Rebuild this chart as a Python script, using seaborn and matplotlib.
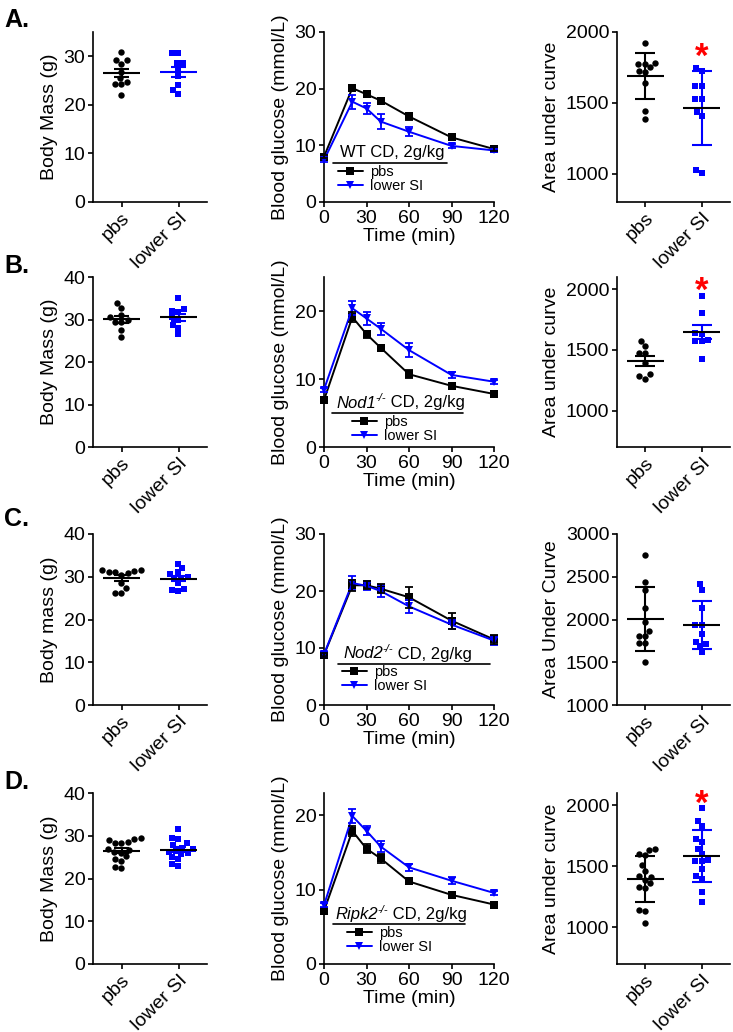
import numpy as np
import pandas as pd
import seaborn as sns
import matplotlib
matplotlib.use("Agg")
import matplotlib.pyplot as plt
from matplotlib.lines import Line2D
from matplotlib.transforms import ScaledTranslation

# ---------------- data ----------------
groups = ["pbs", "lower SI"]
time_min = [0, 20, 30, 40, 60, 90, 120]

# Row A (WT)
mass_A_pbs = [30.8, 29.3, 29.2, 28.5, 26.8, 25.5, 24.8, 24.2, 24.2, 22.0]
mass_A_lsi = [30.6, 30.6, 28.7, 28.7, 27.5, 25.9, 24.0, 23.0, 22.3]
gluc_A_pbs = [8.0, 20.1, 19.0, 17.9, 15.1, 11.4, 9.35]
gluc_A_pbs_sem = [0.3, 0.4, 0.35, 0.35, 0.6, 0.35, 0.3]
gluc_A_lsi = [7.4, 17.7, 16.5, 14.2, 12.4, 9.9, 9.1]
gluc_A_lsi_sem = [0.3, 1.2, 1.0, 1.3, 0.8, 0.3, 0.3]
auc_A_pbs = [1922, 1775, 1780, 1750, 1775, 1725, 1720, 1640, 1440, 1385]
auc_A_lsi = [1725, 1745, 1618, 1622, 1530, 1528, 1410, 1435, 1002, 1026]

# Row B (Nod1-/-)
mass_B_pbs = [33.9, 32.8, 31.0, 30.6, 30.0, 29.5, 29.4, 27.5, 26.0]
mass_B_lsi = [35.1, 32.4, 32.0, 31.7, 30.5, 30.0, 28.6, 28.0, 26.5]
gluc_B_pbs = [6.9, 19.1, 16.6, 14.6, 10.7, 9.0, 7.8]
gluc_B_pbs_sem = [0.3, 0.7, 0.5, 0.3, 0.6, 0.3, 0.3]
gluc_B_lsi = [8.45, 20.4, 18.9, 17.4, 14.25, 10.6, 9.6]
gluc_B_lsi_sem = [0.3, 1.0, 1.0, 0.9, 1.0, 0.5, 0.3]
auc_B_pbs = [1570, 1530, 1478, 1472, 1392, 1300, 1283, 1260]
auc_B_lsi = [1940, 1805, 1640, 1630, 1580, 1575, 1570, 1425]

# Row C (Nod2-/-)
mass_C_pbs = [31.6, 31.5, 31.4, 31.2, 31.0, 30.8, 30.5, 28.5, 27.3, 26.3, 26.2]
mass_C_lsi = [33.0, 32.0, 31.0, 30.6, 30.0, 29.8, 29.5, 28.5, 27.2, 26.9, 26.6]
gluc_C_pbs = [8.8, 21.0, 21.0, 20.4, 18.9, 14.8, 11.5]
gluc_C_pbs_sem = [0.4, 1.0, 0.7, 0.8, 1.8, 1.4, 0.8]
gluc_C_lsi = [8.9, 21.4, 20.9, 20.0, 17.3, 14.1, 11.3]
gluc_C_lsi_sem = [0.4, 1.2, 0.8, 1.0, 1.2, 0.8, 0.7]
auc_C_pbs = [2750, 2440, 2345, 2140, 1970, 1865, 1810, 1805, 1725, 1720, 1500]
auc_C_lsi = [2420, 2350, 2140, 1935, 1930, 1830, 1740, 1715, 1690, 1620]

# Row D (Ripk2-/-)
mass_D_pbs = [29.5, 29.3, 29.0, 28.6, 28.4, 28.2, 27.0, 26.6, 26.3, 25.9, 25.2, 24.5, 24.2, 22.6, 22.5]
mass_D_lsi = [31.5, 29.5, 29.3, 28.3, 27.8, 27.2, 26.8, 26.5, 26.2, 26.0, 25.8, 25.0, 24.5, 23.3, 23.0]
gluc_D_pbs = [7.15, 17.9, 15.5, 14.2, 11.1, 9.3, 8.0]
gluc_D_pbs_sem = [0.3, 0.7, 0.6, 0.6, 0.4, 0.3, 0.3]
gluc_D_lsi = [7.9, 19.9, 17.9, 15.8, 13.0, 11.2, 9.56]
gluc_D_lsi_sem = [0.3, 1.0, 0.6, 0.7, 0.5, 0.5, 0.3]
auc_D_pbs = [1640, 1635, 1600, 1590, 1510, 1465, 1420, 1415, 1390, 1360, 1330, 1325, 1140, 1130, 1035]
auc_D_lsi = [1980, 1870, 1830, 1720, 1700, 1640, 1600, 1550, 1545, 1540, 1480, 1420, 1400, 1290, 1210]

panel_letters = ["A.", "B.", "C.", "D."]
mass_labels = ["Body Mass (g)", "Body Mass (g)", "Body mass (g)", "Body Mass (g)"]
auc_labels = ["Area under curve", "Area under curve", "Area Under Curve", "Area under curve"]
gtt_genes = ["WT", "Nod1", "Nod2", "Ripk2"]
gtt_knockout = [False, True, True, True]
gtt_suffix = " CD, 2g/kg"
legend_labels = ["pbs", "lower SI"]

# ---------------- style ----------------
sns.set_style("ticks")
plt.rcParams["font.family"] = ["Liberation Sans", "DejaVu Sans"]
plt.rcParams["axes.linewidth"] = 1.2
plt.rcParams["xtick.major.width"] = 1.2
plt.rcParams["ytick.major.width"] = 1.2
plt.rcParams["xtick.major.size"] = 3.5
plt.rcParams["ytick.major.size"] = 3.5
plt.rcParams["xtick.labelsize"] = 14
plt.rcParams["ytick.labelsize"] = 14
plt.rcParams["axes.labelsize"] = 14
plt.rcParams["xtick.color"] = "black"
plt.rcParams["ytick.color"] = "black"
plt.rcParams["axes.edgecolor"] = "black"
plt.rcParams["text.color"] = "black"
plt.rcParams["axes.labelcolor"] = "black"

BLUE = "#0000FF"
W, H = 733, 1032
fig = plt.figure(figsize=(W / 100, H / 100), dpi=100)


def add_ax(x0, x1, ytop, ybot):
    return fig.add_axes([x0 / W, 1 - ybot / H, (x1 - x0) / W, (ybot - ytop) / H])


def style_ax(ax):
    sns.despine(ax=ax)
    ax.tick_params(axis="both", direction="out", pad=2)


def scatter_panel(ax, pbs, lsi, err, ylim, yticks, ylabel, cap_hw, lsi_mean_col,
                  star=None):
    df = pd.DataFrame({"group": ["pbs"] * len(pbs) + ["lower SI"] * len(lsi),
                       "value": list(pbs) + list(lsi)})
    sns.swarmplot(data=df[df.group == "pbs"], x="group", y="value", order=groups,
                  color="black", marker="o", size=4.6, linewidth=0, ax=ax, zorder=3)
    sns.swarmplot(data=df[df.group == "lower SI"], x="group", y="value", order=groups,
                  color=BLUE, marker="s", size=4.4, linewidth=0, ax=ax, zorder=3)
    for i, (vals, col, mcol) in enumerate([(pbs, "black", "black"),
                                           (lsi, BLUE, lsi_mean_col)]):
        v = np.asarray(vals, float)
        m = v.mean()
        sd = v.std(ddof=1)
        e = sd / np.sqrt(len(v)) if err == "sem" else sd
        ax.vlines(i, m - e, m + e, color=col, lw=1.5, zorder=4)
        ax.hlines([m - e, m + e], i - cap_hw, i + cap_hw, color=col, lw=1.5, zorder=4)
        ax.hlines(m, i - 0.33, i + 0.33, color=mcol, lw=1.5, zorder=5)
    ax.set_xlim(-0.5, 1.5)
    ax.set_ylim(*ylim)
    ax.set_yticks(yticks)
    ax.set_xlabel("")
    ax.set_ylabel(ylabel)
    ax.set_xticks([0, 1])
    ax.set_xticklabels(groups, rotation=45, ha="right", rotation_mode="anchor")
    style_ax(ax)
    if star is not None:
        tr = ax.transData + ScaledTranslation(0, -19 / 100, fig.dpi_scale_trans)
        ax.text(1, star, "*", color="red", fontsize=25, fontweight="bold",
                ha="center", va="baseline", transform=tr, clip_on=False)


def draw_title(ax, tx, ty, gene, knockout):
    if not knockout:
        ax.text(tx, ty, gene + gtt_suffix, transform=ax.transAxes, fontsize=12,
                ha="left", va="center")
        return
    t1 = ax.text(tx, ty, gene, transform=ax.transAxes, fontsize=12,
                 style="italic", ha="left", va="center")
    t2 = ax.annotate("-/-", xy=(1, 0.52), xycoords=t1, fontsize=8,
                     style="italic", ha="left", va="bottom")
    ax.annotate(gtt_suffix, xy=(1, 0), xycoords=(t2, t1), fontsize=12,
                ha="left", va="bottom")


def gtt_panel(ax, pbs, pbs_sem, lsi, lsi_sem, ylim, yticks, gene, knockout, leg):
    df = pd.DataFrame({"Time": time_min * 2,
                       "Glucose": list(pbs) + list(lsi),
                       "group": ["pbs"] * len(pbs) + ["lower SI"] * len(lsi)})
    sns.lineplot(data=df, x="Time", y="Glucose", hue="group", style="group",
                 hue_order=groups, style_order=groups,
                 palette={"pbs": "black", "lower SI": BLUE},
                 markers={"pbs": "s", "lower SI": "v"}, dashes=False,
                 markersize=6, markeredgewidth=0, linewidth=1.4,
                 legend=False, ax=ax, clip_on=False, zorder=3)
    ax.errorbar(time_min, lsi, yerr=lsi_sem, fmt="none", ecolor=BLUE,
                elinewidth=1.3, capsize=3.2, capthick=1.3, clip_on=False, zorder=3)
    ax.errorbar(time_min, pbs, yerr=pbs_sem, fmt="none", ecolor="black",
                elinewidth=1.3, capsize=3.2, capthick=1.3, clip_on=False, zorder=4)
    ax.set_xlim(0, 120)
    ax.set_xticks([0, 30, 60, 90, 120])
    ax.set_ylim(*ylim)
    ax.set_yticks(yticks)
    ax.set_xlabel("Time (min)", labelpad=1)
    ax.set_ylabel("Blood glucose (mmol/L)")
    style_ax(ax)
    # legend block
    tx, ty, ux0, ux1, uy, lx, ly = leg
    draw_title(ax, tx, ty, gene, knockout)
    ax.plot([ux0, ux1], [uy, uy], transform=ax.transAxes, color="black", lw=1.2,
            clip_on=False)
    handles = [Line2D([0], [0], color="black", marker="s", ms=5.5, mew=0, lw=1.4),
               Line2D([0], [0], color=BLUE, marker="v", ms=6, mew=0, lw=1.4)]
    ax.legend(handles, legend_labels, loc="upper left", bbox_to_anchor=(lx, ly),
              frameon=False, fontsize=10.5, borderpad=0, borderaxespad=0,
              handlelength=1.7, handletextpad=0.5, labelspacing=0.0)


rows = [(32, 202), (277, 447), (534, 705), (793, 964)]
LX = (93, 207)
MX = (324, 494)
RX = (617, 730)


def leg_coords(ytop, ybot, title_x, title_y, ux0, ux1, uy, hx, entry_top):
    h = ybot - ytop
    w = MX[1] - MX[0]
    return ((title_x - MX[0]) / w, (ybot - title_y) / h,
            (ux0 - MX[0]) / w, (ux1 - MX[0]) / w, (ybot - uy) / h,
            (hx - MX[0]) / w, (ybot - entry_top) / h)


mass_sets = [(mass_A_pbs, mass_A_lsi), (mass_B_pbs, mass_B_lsi),
             (mass_C_pbs, mass_C_lsi), (mass_D_pbs, mass_D_lsi)]
gluc_sets = [(gluc_A_pbs, gluc_A_pbs_sem, gluc_A_lsi, gluc_A_lsi_sem),
             (gluc_B_pbs, gluc_B_pbs_sem, gluc_B_lsi, gluc_B_lsi_sem),
             (gluc_C_pbs, gluc_C_pbs_sem, gluc_C_lsi, gluc_C_lsi_sem),
             (gluc_D_pbs, gluc_D_pbs_sem, gluc_D_lsi, gluc_D_lsi_sem)]
auc_sets = [(auc_A_pbs, auc_A_lsi), (auc_B_pbs, auc_B_lsi),
            (auc_C_pbs, auc_C_lsi), (auc_D_pbs, auc_D_lsi)]

mass_ylims = [(0, 35), (0, 40), (0, 40), (0, 40)]
mass_ticks = [[0, 10, 20, 30], [0, 10, 20, 30, 40], [0, 10, 20, 30, 40], [0, 10, 20, 30, 40]]
gluc_ylims = [(0, 30), (0, 25), (0, 30), (0, 23)]
gluc_ticks = [[0, 10, 20, 30], [0, 10, 20], [0, 10, 20, 30], [0, 10, 20]]
auc_ylims = [(800, 2000), (700, 2100), (1000, 3000), (700, 2100)]
auc_ticks = [[1000, 1500, 2000], [1000, 1500, 2000],
             [1000, 1500, 2000, 2500, 3000], [1000, 1500, 2000]]
auc_err = ["sd", "sem", "sd", "sd"]
auc_star = [1887, 2059, None, 2084]
mass_lsi_mean_col = [BLUE, "black", "black", "black"]
leg_px = [(340, 152, 333, 447, 163, 338, 165),
          (336, 403, 332, 463, 413, 352, 415),
          (343, 654, 338, 490, 664, 342, 665),
          (335, 915, 333, 465, 924, 347, 926)]
letter_y = [8, 254, 507, 770]

for r, (ytop, ybot) in enumerate(rows):
    axL = add_ax(LX[0], LX[1], ytop, ybot)
    scatter_panel(axL, *mass_sets[r], "sem", mass_ylims[r], mass_ticks[r],
                  mass_labels[r], 0.13, mass_lsi_mean_col[r])
    axM = add_ax(MX[0], MX[1], ytop, ybot)
    gtt_panel(axM, *gluc_sets[r], gluc_ylims[r], gluc_ticks[r], gtt_genes[r],
              gtt_knockout[r], leg_coords(ytop, ybot, *leg_px[r]))
    axR = add_ax(RX[0], RX[1], ytop, ybot)
    scatter_panel(axR, *auc_sets[r], auc_err[r], auc_ylims[r], auc_ticks[r],
                  auc_labels[r], 0.18, "black", star=auc_star[r])
    fig.text(4 / W, 1 - letter_y[r] / H, panel_letters[r], fontsize=18,
             fontweight="bold", ha="left", va="top")

fig.savefig("out.png", dpi=100)
